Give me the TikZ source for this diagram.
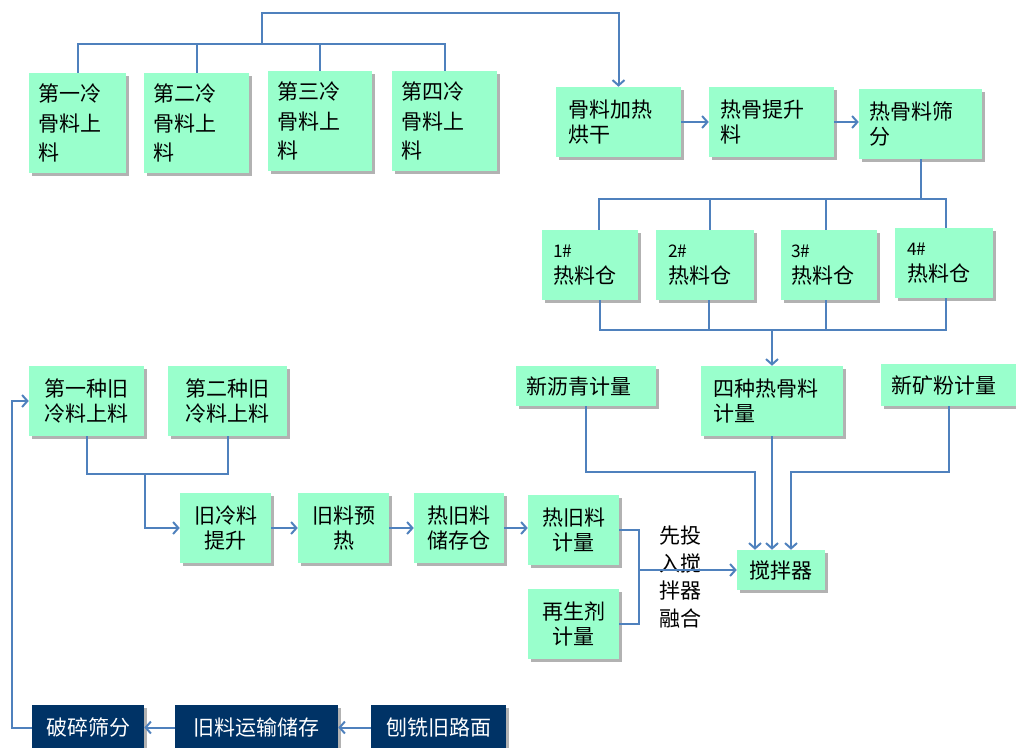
\documentclass[tikz,border=0pt]{standalone}
\usepackage{fontspec}
\setmainfont{Noto Sans CJK SC}
\usetikzlibrary{arrows.meta,shadows}
\definecolor{boxgreen}{RGB}{153,255,204}
\definecolor{navy}{RGB}{0,51,102}
\definecolor{lineblue}{RGB}{79,129,189}
\newcommand\fsn{\fontsize{15.75}{18.75}\selectfont}
\newcommand\fsb{\fontsize{15.75}{20}\selectfont}
\newcommand\fsc{\fontsize{15.75}{22}\selectfont}
\newcommand\fsl{\fontsize{15.75}{20.6}\selectfont}
\newcommand\fss{\fontsize{13}{15}\selectfont}
\tikzset{
  gbox/.style={fill=boxgreen, inner sep=0pt, align=left, font=\fsn,
    drop shadow={shadow xshift=2pt, shadow yshift=-2pt, fill=black, opacity=0.3}},
  gboxc/.style={gbox, align=center},
  cbox/.style={gbox, font=\fsc},
  binbox/.style={gbox, font=\fsb},
  dbox/.style={fill=navy, text=white, inner sep=0pt, align=center, font=\fsn,
    drop shadow={shadow xshift=2pt, shadow yshift=-2pt, fill=black, opacity=0.3}},
  conn/.style={draw=lineblue, line width=1.5pt},
  arr/.style={conn, -{Straight Barb[length=4pt,width=9pt]}},
}
% style name x1 y1 x2 y2 margin text   (pixel coordinates)
\newcommand\bx[8]{%
  \pgfmathsetmacro\bw{(#5-#3)*0.75}%
  \pgfmathsetmacro\bh{(#6-#4)*0.75}%
  \pgfmathsetmacro\tw{(#5-#3-2*#7)*0.75}%
  \node[#1, minimum width=\bw pt, minimum height=\bh pt, text width=\tw pt] (#2) at ({(#3+#5)/2},{(#4+#6)/2}) {#8};%
}
\begin{document}
\begin{tikzpicture}[x=0.75pt,y=-0.75pt]
\useasboundingbox (0,0) rectangle (1016,747);
% cold aggregate feeders
\bx{cbox}{c1}{29}{73}{126}{173}{9}{第一冷\\骨料上\\料}
\bx{cbox}{c2}{144}{73}{249}{173}{9}{第二冷\\骨料上\\料}
\bx{cbox}{c3}{268}{71}{372}{171}{9}{第三冷\\骨料上\\料}
\bx{cbox}{c4}{392}{71}{497}{171}{9}{第四冷\\骨料上\\料}
% hot aggregate line
\bx{gbox}{h1}{556}{87}{681}{157}{12}{骨料加热\\烘干}
\bx{gbox}{h2}{709}{87}{834}{157}{11}{热骨提升\\料}
\bx{gbox}{h3}{859}{89}{982}{159}{10}{热骨料筛\\分}
% bins
\bx{binbox}{b1}{542}{230}{638}{300}{11}{{\fss 1\#}\\热料仓}
\bx{binbox}{b2}{656}{230}{754}{300}{12}{{\fss 2\#}\\热料仓}
\bx{binbox}{b3}{781}{230}{877}{300}{10}{{\fss 3\#}\\热料仓}
\bx{binbox}{b4}{895}{228}{993}{298}{12}{{\fss 4\#}\\热料仓}
% metering
\bx{gbox}{p1}{516}{366}{656}{406}{10}{新沥青计量}
\bx{gbox}{p2}{701}{366}{843}{436}{12}{四种热骨料\\计量}
\bx{gbox}{p3}{881}{364}{1016}{406}{10}{新矿粉计量}
\bx{gboxc}{mix}{737}{550}{825}{590}{4}{搅拌器}
% recycled material
\bx{gboxc}{r1}{29}{366}{144}{436}{4}{第一种旧\\冷料上料}
\bx{gboxc}{r2}{168}{366}{287}{436}{4}{第二种旧\\冷料上料}
\bx{gboxc}{rl}{180}{493}{271}{563}{4}{旧冷料\\提升}
\bx{gboxc}{rp}{298}{493}{389}{563}{4}{旧料预\\热}
\bx{gboxc}{rs}{414}{493}{504}{563}{4}{热旧料\\储存仓}
\bx{gboxc}{rm}{528}{495}{619}{565}{4}{热旧料\\计量}
\bx{gboxc}{rg}{528}{589}{619}{659}{4}{再生剂\\计量}
\node[font=\fsl, align=center, inner sep=0pt] (lbl) at (680,577) {先投\\入搅\\拌器\\融合};
% dark boxes
\bx{dbox}{d1}{32}{705}{144}{750}{4}{破碎筛分}
\bx{dbox}{d2}{175}{705}{338}{750}{4}{旧料运输储存}
\bx{dbox}{d3}{371}{705}{506}{750}{4}{刨铣旧路面}

% ---- connectors ----
\coordinate (tb) at (262,44);
\coordinate (tt) at (262,13);
\draw[conn] (c1.north) |- (tb) -| (c4.north);
\draw[conn] (c2.north) -- (c2.north |- tb);
\draw[conn] (c3.north) -- (c3.north |- tb);
\draw[arr] (tb) -- (tt) -| (h1.north);
\draw[arr] (h1.east) -- (h1.east -| h2.west);
\draw[arr] (h2.east) -- (h2.east -| h3.west);
% to bins
\coordinate (bt) at (0,199);
\coordinate (b1t) at ([xshift=6.75pt]b1.north);
\coordinate (b2t) at ([xshift=3.75pt]b2.north);
\coordinate (b3t) at ([xshift=-2.25pt]b3.north);
\coordinate (b4t) at ([xshift=1.5pt]b4.north);
\draw[conn] (h3.south) -- (h3.south |- bt);
\draw[conn] (b1t) -- (b1t |- bt) -- (b4t |- bt) -- (b4t);
\draw[conn] (b2t) -- (b2t |- bt);
\draw[conn] (b3t) -- (b3t |- bt);
% from bins
\coordinate (bb) at (0,330);
\coordinate (b1b) at ([xshift=7.5pt]b1.south);
\coordinate (b2b) at ([xshift=3pt]b2.south);
\coordinate (b3b) at ([xshift=-2.25pt]b3.south);
\coordinate (b4b) at ([xshift=1.5pt]b4.south);
\draw[conn] (b1b) -- (b1b |- bb) -- (b4b |- bb) -- (b4b);
\draw[conn] (b2b) -- (b2b |- bb);
\draw[conn] (b3b) -- (b3b |- bb);
\draw[arr] (p2.north |- bb) -- (p2.north);
% to mixer
\coordinate (my) at (0,472);
\coordinate (m1) at ([xshift=-19.5pt]mix.north);
\coordinate (m3) at ([xshift=7.5pt]mix.north);
\draw[arr] (p1.south) -- (p1.south |- my) -| (m1);
\draw[arr] (p2.south) -- (p2.south |- mix.north);
\draw[arr] (p3.south) -- (p3.south |- my) -| (m3);
% recycled line
\coordinate (ry) at (0,474);
\coordinate (rj) at (145,474);
\draw[conn] (r1.south) -- (r1.south |- ry) -- (r2.south |- ry) -- (r2.south);
\draw[arr] (rj) |- (rl.west);
\draw[arr] (rl.east) -- (rl.east -| rp.west);
\draw[arr] (rp.east) -- (rp.east -| rs.west);
\draw[arr] (rs.east) -- (rs.east -| rm.west);
\coordinate (fx) at (639,0);
\draw[conn] (rm.east) -- (rm.east -| fx) -- (fx |- rg.east) -- (rg.east);
\draw[arr] (fx |- mix.west) -- (mix.west);
% bottom loop
\coordinate (lx) at (12,0);
\draw[arr] (d3.west) -- (d2.east);
\draw[arr] (d2.west) -- (d1.east);
\draw[arr] (d1.west) -- (d1.west -| lx) -- (lx |- r1.west) -- (r1.west);
\end{tikzpicture}
\end{document}
